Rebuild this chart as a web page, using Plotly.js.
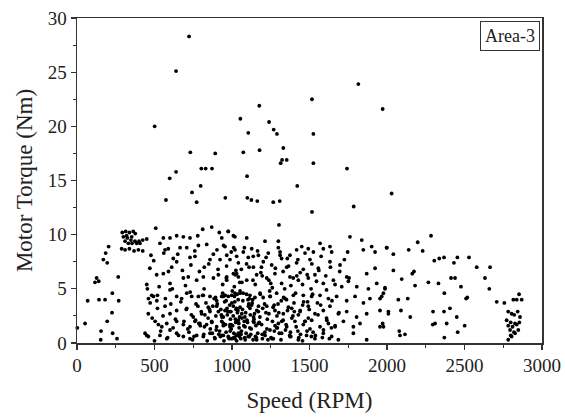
<!DOCTYPE html>
<html>
<head>
<meta charset="utf-8">
<script src="https://cdn.plot.ly/plotly-3.0.1.min.js"></script>
<style>html,body{margin:0;padding:0;background:#fff;}#chart{width:565px;height:418px;}</style>
</head>
<body>
<div id="chart"></div>
<script>
// Speed (RPM) and Motor Torque (Nm)
const speed = [
723,639,501,1054,1176,1239,1269,1290,1105,1331,1516,1525,1525,731,892,1073,1178,1314,1323,1353,802,830,871,639,598,1097,
1815,1972,1742,
574,798,742,772,957,1421,1099,1125,1163,1266,1308,1516,1785,1303,2030,2284,
292,314,338,363,376,299,325,348,374,400,424,450,310,288,310,338,368,396,424,331,355,385,406,320,353,
508,477,204,185,170,195,127,116,140,266,69,142,181,228,269,226,195,52,2,155,230,153,258,
535,557,600,643,686,729,779,811,869,918,976,1019,
568,589,665,708,783,837,903,946,1011,
621,643,611,729,761,821,858,923,966,1030,
514,557,600,686,718,772,815,880,912,966,1009,1041,
450,454,482,461,493,519,472,600,643,675,708,740,783,815,858,901,933,976,1019,1052,
460,519,568,600,643,708,750,804,858,901,944,987,1030,
504,525,547,579,600,643,686,729,761,793,836,869,901,944,987,1030,
450,460,439,535,579,643,686,729,772,815,858,890,933,976,1019,1041,
976,1009,934,1095,1213,1299,1450,1492,1568,1632,1761,1837,1901,1923,1998,
955,1019,1073,1127,1170,1234,1310,1374,1417,1471,1525,1589,1643,1746,1847,
987,1041,1105,1138,1202,1256,1320,1353,1417,1460,1503,1557,1632,1697,1740,1869,1923,
966,1030,1095,1159,1224,1277,1320,1374,1428,1492,1535,1589,1654,1708,1751,1805,1880,1934,1987,
944,998,1052,1116,1181,1245,1288,1342,1396,1460,1514,1568,1622,1675,1740,1794,1848,1890,1966,2009,
955,1009,1063,1116,1170,1224,1277,1331,1385,1439,1492,1535,1589,1632,1686,1740,1804,1869,1955,
934,987,1041,1084,1138,1191,1245,1299,1353,1406,1460,1514,1568,1622,1665,1719,1783,1826,1977,
944,998,1052,1105,1159,1213,1267,1320,1374,1428,1481,1535,1589,1643,1686,1783,1869,
905,920,935,948,952,962,970,978,985,990,995,1002,1008,1012,1018,1024,1030,1035,1040,1046,1052,1058,1064,1070,1076,1082,1088,1094,1100,1106,1112,1118,1124,1130,1136,1142,1148,1154,1160,1166,
1180,1195,1210,1225,1238,1252,1265,1278,1290,1305,1318,1330,1345,1358,1372,1386,1400,1414,1428,1442,1456,1470,1484,1498,1512,
705,722,738,755,768,786,802,818,832,846,860,876,888,896,
1015,1060,1150,1190,1260,1330,1380,1440,1510,1560,1610,
1998,2041,2140,2198,2230,2305,2337,2368,2454,2432,2529,2579,2665,2632,2660,
2041,2095,2163,2174,2181,2267,2332,2413,2439,2477,2370,2518,2510,
1955,1977,1987,2073,2134,2009,2090,2150,2297,2368,2406,2450,2501,2295,2310,2385,
1955,1972,2079,2084,2116,2370,2456,2708,2757,
2852,2815,2837,2869,2782,2804,2821,2843,2858,2772,2798,2826,2854,2782,2810,2837,2794,2819,2847,2798,2826,2782,2804,
470,495,530,560,590,615,650,680,700,735,760,790,820,850,880,910,940,965,995,1025,1050,1080,1110,1135,1165,1195,1220,1250,1280,1310,1340,1365,1395,1425,1455,1485,1515,1545,1575,1605,1635,1665,1695,1725,1755,
485,500,515,540,555,570,585,605,620,635,655,670,690,715,730,745,765,780,795,810,825,840,855,870,885,898,912,925,940,958,968,982,993,1004,1016,1027,1038,1049,1061,1072,1085,1097,1108,1121,1133,1145,1157,1170,1183,1198,1212,1228,1243,1258,1272,1288,1302,1316,1333,1349,1364,1379,1393,1410,1425,1440,1455,1472,1488,1503,1520,1538,1555,1572,1590,1610,1628,1645,1665,1690,
915,928,944,957,973,988,999,1011,1022,1033,1044,1057,1068,1079,1091,1103,1115,1127,1139,1151,1176,1201,1232,1261,1293,
822,847,873,894,931,962,994,1026,1047,1083,1112,1142,1171,1196,1219,1247,1273,1297,1321,1352,1377,1402,1431,1462,1492,1523,1551,1583,1612,1641,1238,1186,1094,1021,963,1357,1418,1299,1137,1064
];
const torque = [
28.3,25.1,20.0,20.7,21.9,20.4,19.7,19.3,19.4,18.0,22.5,19.3,16.6,17.6,17.5,17.6,17.8,16.6,16.9,16.9,16.1,16.1,16.1,15.8,15.2,15.4,
23.9,21.6,16.1,
13.2,14.5,13.9,13.0,13.4,14.5,13.4,13.2,13.1,13.0,13.1,12.1,12.6,10.9,13.8,9.9,
10.2,10.3,10.2,10.3,10.1,9.8,9.7,9.5,9.4,9.4,9.5,9.6,9.4,8.7,8.6,8.7,8.5,8.6,8.5,9.2,9.2,9.2,9.2,9.9,9.8,
10.6,8.1,8.9,8.3,7.7,7.4,6.0,5.6,5.7,6.1,3.9,4.0,4.0,4.6,3.9,2.8,2.0,1.8,1.4,1.1,0.9,0.3,0.4,
9.2,9.7,9.7,9.9,9.8,9.7,9.9,10.5,10.7,10.2,10.3,9.8,
8.6,8.7,8.8,8.8,9.0,9.1,8.6,9.0,8.8,
7.8,7.5,7.0,7.9,8.0,7.0,7.7,7.7,8.1,8.0,
6.3,6.4,5.5,6.0,6.1,5.8,6.1,6.0,6.3,5.8,6.4,6.1,
5.4,5.0,4.4,4.1,4.3,4.4,3.7,4.9,4.3,4.1,4.6,4.3,4.3,4.4,4.3,3.9,4.3,4.3,4.6,4.8,
2.7,3.2,3.4,2.7,3.0,3.2,2.4,2.7,2.9,3.4,2.4,2.9,3.2,
2.0,1.7,1.5,1.8,1.2,2.0,1.7,1.5,2.0,1.8,1.7,2.0,1.5,1.8,1.5,2.0,
0.7,0.6,0.9,0.7,0.4,0.9,0.6,0.4,0.7,0.6,0.9,0.4,0.7,0.6,0.4,0.9,
10.3,9.9,9.7,9.7,9.4,9.4,8.9,8.7,9.2,8.9,9.8,9.5,8.9,8.4,8.8,
8.9,8.6,8.4,8.7,8.1,8.3,8.4,8.1,8.6,8.3,8.4,8.7,8.4,8.4,8.6,
7.7,7.4,7.9,7.0,7.5,7.2,7.8,7.0,7.4,6.8,7.7,6.9,7.5,7.2,6.1,6.4,6.9,
6.1,6.4,5.8,6.3,6.0,6.4,5.5,6.1,5.8,6.0,6.3,5.5,5.8,5.2,5.7,5.2,5.0,5.5,5.1,
4.3,4.4,4.6,4.4,4.6,4.3,4.6,4.1,4.4,4.4,4.3,4.4,4.1,4.3,3.9,4.3,3.7,4.1,4.3,2.9,
3.0,3.4,2.7,3.2,2.9,3.4,3.0,2.7,3.2,2.9,3.4,2.7,3.0,3.4,2.7,2.9,2.4,2.7,3.0,
2.0,1.7,2.1,1.5,2.0,1.7,1.2,1.8,1.5,2.0,1.7,2.1,1.5,1.8,1.5,2.0,1.5,1.8,1.5,
0.7,0.4,0.9,0.6,0.3,0.7,0.4,0.9,0.6,0.3,0.7,0.4,0.9,0.6,0.3,0.9,0.3,
3.6,1.1,2.4,0.2,3.8,1.0,2.6,0.5,3.5,2.2,1.3,4.8,2.5,0.9,3.8,1.9,0.2,2.8,4.0,1.4,3.3,0.8,2.3,3.9,1.6,0.5,2.8,4.5,1.9,3.4,0.6,2.6,1.3,3.7,0.3,2.2,4.2,1.6,3.0,0.9,
2.4,0.8,3.6,1.3,2.7,0.5,3.3,1.6,2.5,0.9,3.9,2.1,1.2,3.0,0.7,2.3,3.7,1.5,2.6,0.8,3.5,2.0,1.1,3.1,0.6,
3.1,1.0,2.6,0.6,3.6,1.8,2.9,0.8,3.7,2.3,1.3,3.4,0.5,2.5,
5.2,6.8,5.4,7.0,5.1,6.6,5.3,6.5,5.0,6.7,4.9,
8.8,8.2,8.6,9.3,8.5,7.6,7.8,7.9,7.9,7.4,7.9,7.0,7.0,6.0,5.0,
6.7,5.9,6.4,6.6,5.3,5.6,5.5,6.0,6.0,5.2,4.6,4.2,4.1,
4.1,4.6,5.0,4.0,4.1,2.7,3.0,2.4,2.9,2.9,3.2,2.4,1.6,1.7,1.8,1.8,
1.5,1.8,1.1,0.7,0.8,0.5,1.0,3.8,3.7,
4.5,4.0,4.0,4.0,2.9,2.7,2.6,2.9,2.4,2.1,1.9,1.8,1.9,1.6,1.5,1.7,1.2,1.0,1.2,0.7,0.9,0.3,0.6,
6.9,7.6,5.2,8.3,6.6,5.0,8.2,6.7,5.3,7.2,8.5,6.6,5.0,7.3,8.2,6.8,5.4,7.1,8.4,6.7,5.6,8.8,7.0,5.8,8.5,6.2,7.9,5.5,6.9,8.1,5.0,7.1,6.0,7.7,5.4,6.3,7.3,5.7,8.0,6.2,7.0,5.4,6.6,7.7,6.0,
2.3,0.2,3.9,1.1,2.5,4.1,0.5,3.6,1.4,2.2,0.7,3.8,2.0,1.3,4.7,0.3,2.1,3.4,1.6,4.4,2.6,0.2,3.1,1.9,4.1,1.2,2.9,0.6,4.6,1.7,3.2,0.4,2.9,1.6,4.3,0.7,3.0,2.4,1.1,4.6,0.3,2.1,3.6,0.8,4.0,2.7,0.5,1.8,4.5,3.2,1.0,2.2,4.8,0.4,3.5,1.4,2.8,0.3,4.2,1.7,3.3,0.6,2.5,4.6,1.1,3.0,0.2,2.0,3.8,1.3,4.5,0.7,2.6,3.5,1.2,2.3,0.4,3.9,1.6,2.8,
0.8,3.1,1.6,4.4,2.9,1.1,3.7,0.5,2.2,4.5,1.8,0.4,3.1,2.0,0.9,4.0,1.4,3.5,2.4,0.6,1.9,4.2,0.3,2.0,1.4,
1.5,3.3,0.9,4.2,2.6,3.9,1.7,3.1,0.6,2.4,4.1,1.9,3.4,0.4,2.8,4.3,1.1,3.6,2.0,4.0,1.0,2.9,0.5,3.8,2.3,1.0,3.7,0.5,2.1,1.4,5.8,6.5,7.3,6.3,6.0,7.8,6.2,8.8,8.0,5.6
];
const xTicks = [0,500,1000,1500,2000,2500,3000];
const yTicks = [0,5,10,15,20,25,30];
const legendLabel = 'Area-3';

const font = 'Liberation Serif';
const axisCommon = {
  showline: true, linecolor: '#333', linewidth: 1.5, mirror: true,
  ticks: 'outside', ticklen: 5, tickwidth: 1.2, tickcolor: '#333',
  showgrid: false, zeroline: false,
  tickfont: {family: font, size: 19, color: '#222'},
  minor: {ticks: 'outside', ticklen: 3, tickwidth: 1, tickcolor: '#333'}
};
Plotly.newPlot('chart', [{
  type: 'scatter', mode: 'markers', x: speed, y: torque,
  marker: {color: '#000', size: 3.8}, showlegend: false, cliponaxis: false
}], {
  width: 565, height: 418,
  font: {family: font},
  margin: {l: 77, r: 23, t: 18, b: 75},
  paper_bgcolor: '#fff', plot_bgcolor: '#fff',
  xaxis: Object.assign({}, axisCommon, {range: [0, 3000], tickvals: xTicks,
    minor: Object.assign({}, axisCommon.minor, {dtick: 250, tick0: 0}),
    title: {text: 'Speed (RPM)', font: {family: font, size: 23, color: '#222'}, standoff: 16}}),
  yaxis: Object.assign({}, axisCommon, {range: [0, 30], tickvals: yTicks,
    minor: Object.assign({}, axisCommon.minor, {dtick: 2.5, tick0: 0}),
    title: {text: 'Motor Torque (Nm)', font: {family: font, size: 23, color: '#222'}, standoff: 8}}),
  annotations: [{
    xref: 'paper', yref: 'paper', x: 0.995, y: 0.99, xanchor: 'right', yanchor: 'top',
    text: legendLabel, showarrow: false, font: {family: font, size: 18, color: '#222'},
    bordercolor: '#333', borderwidth: 1, borderpad: 4, bgcolor: '#fff'
  }]
}, {displayModeBar: false, staticPlot: true});
</script>
</body>
</html>
